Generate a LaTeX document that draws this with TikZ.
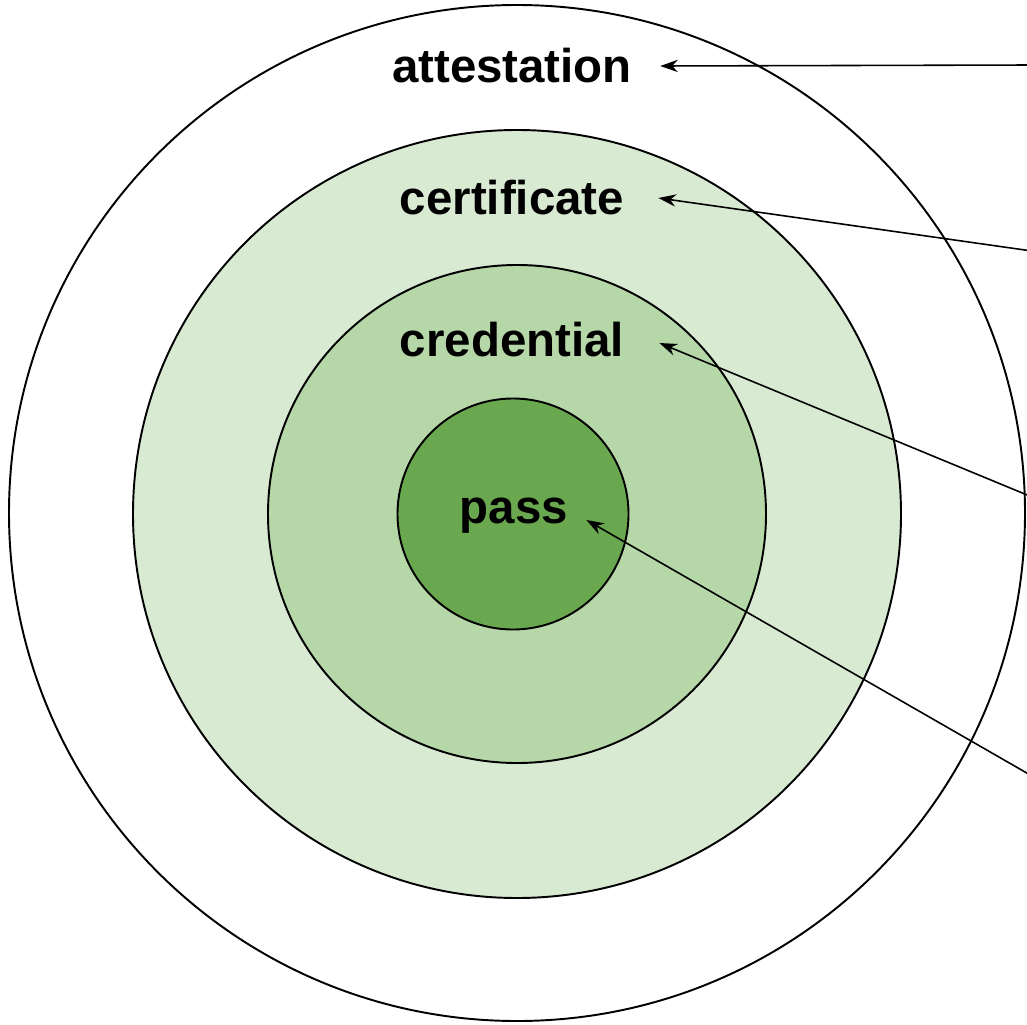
\documentclass[tikz,border=0pt]{standalone}
\usepackage{fontspec}
\setmainfont{Liberation Sans}
\usetikzlibrary{arrows.meta}
\definecolor{ringlight}{HTML}{D9EAD3}
\definecolor{ringmid}{HTML}{B6D7A8}
\definecolor{ringdark}{HTML}{6AA84F}
\tikzstyle{ring} = [circle, draw=black, line width=1.1pt, inner sep=0pt]
\tikzstyle{term} = [font=\fontsize{27}{30}\selectfont\bfseries, text=black, inner sep=0pt]
\tikzstyle{arrow} = [line width=0.9pt, -{Stealth[length=10pt, width=7pt]}]

\begin{document}
\begin{tikzpicture}[x=0.02cm, y=-0.02cm]
\useasboundingbox (0,0) rectangle (1027,1024);
\node (attring) [ring, fill=white, minimum size=1016*0.02cm] at (517,513) {};
\node (certring) [ring, fill=ringlight, minimum size=768*0.02cm] at (517,514) {};
\node (credring) [ring, fill=ringmid, minimum size=498*0.02cm] at (517,514) {};
\node (passring) [ring, fill=ringdark, minimum size=231*0.02cm] at (513,514) {};

\node (attestation) [term] at (512,66) {attestation};
\node (certificate) [term] at (512,198) {certificate};
\node (credential) [term] at (512,340) {credential};
\node (pass) [term] at (514,516) {pass};

\coordinate (attsrc) at (1032,65);
\coordinate (certsrc) at (1032,251);
\coordinate (credsrc) at (1032,497);
\coordinate (passsrc) at (1032,776);

\draw [arrow] (attsrc) -- ([xshift=28*0.02cm]attestation.east);
\draw [arrow] (certsrc) -- ([xshift=34*0.02cm]certificate.east);
\draw [arrow] (credsrc) -- ([xshift=35*0.02cm, yshift=-3*0.02cm]credential.east);
\draw [arrow] (passsrc) -- ([xshift=18*0.02cm, yshift=-4*0.02cm]pass.east);

\end{tikzpicture}
\end{document}
